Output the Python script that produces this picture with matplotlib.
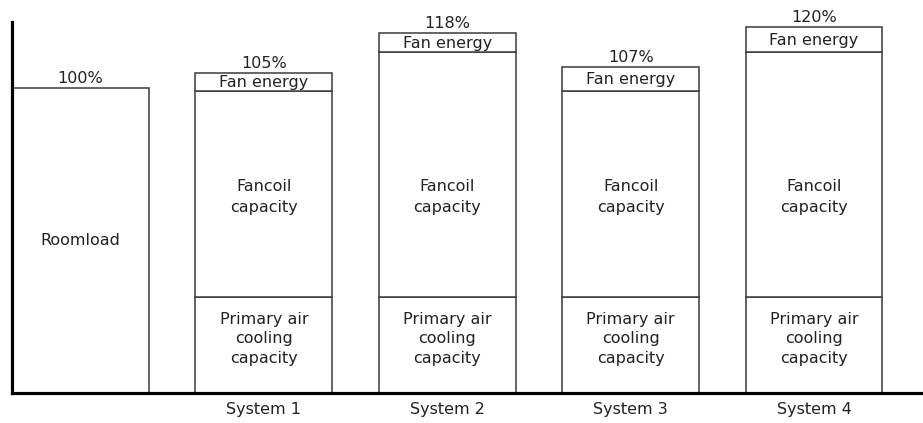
import matplotlib
matplotlib.use("Agg")
import matplotlib.pyplot as plt
import numpy as np

plt.rcParams['font.family'] = ['DejaVu Sans']

categories = ["Roomload", "System 1", "System 2", "System 3", "System 4"]
tick_labels = ["", "System 1", "System 2", "System 3", "System 4"]
roomload = [100, 0, 0, 0, 0]
primary_air = [0, 31.5, 31.5, 31.5, 31.5]
fancoil = [0, 67.5, 80.5, 67.5, 80.5]
fan_energy = [0, 6, 6, 8, 8]
totals = [100, 105, 118, 107, 120]
total_labels = ["100%", "105%", "118%", "107%", "120%"]

fig = plt.figure(figsize=(9.23, 4.23), dpi=100)
ax = fig.add_axes([12/923, (423-392.7)/423, 1 - 12/923, (392.7-22)/423])

x = np.arange(len(categories))
w = 0.746
ec = '#3a3a3a'
lw = 1.1
tc = '#222222'
fs = 11.5

ax.bar(x, roomload, w, color='white', edgecolor=ec, linewidth=lw)
ax.bar(x, primary_air, w, color='white', edgecolor=ec, linewidth=lw)
bottom2 = np.array(primary_air)
ax.bar(x, fancoil, w, bottom=bottom2, color='white', edgecolor=ec, linewidth=lw)
bottom3 = bottom2 + np.array(fancoil)
ax.bar(x, fan_energy, w, bottom=bottom3, color='white', edgecolor=ec, linewidth=lw)

for i in range(len(categories)):
    ax.annotate(total_labels[i], (x[i], totals[i]), xytext=(0, 1.5),
                textcoords='offset points', ha='center', va='bottom',
                fontsize=fs, color=tc)
    if i == 0:
        ax.text(x[i], roomload[i] / 2, "Roomload", ha='center', va='center',
                fontsize=fs, color=tc)
    else:
        ax.text(x[i], primary_air[i] / 2 + 2, "Primary air\ncooling\ncapacity",
                ha='center', va='center', fontsize=fs, color=tc, linespacing=1.38)
        ax.text(x[i], bottom2[i] + 32.8, "Fancoil\ncapacity",
                ha='center', va='center', fontsize=fs, color=tc, linespacing=1.45)
        ax.text(x[i], bottom3[i] + fan_energy[i] / 2 - 0.3, "Fan energy",
                ha='center', va='center', fontsize=fs, color=tc)

ax.set_xlim(-w / 2, 4.594)
ax.set_ylim(0, 121.7)
ax.set_xticks(x)
ax.set_xticklabels(tick_labels, fontsize=fs, color=tc)
ax.tick_params(axis='x', length=0, pad=7)
ax.set_yticks([])
for s in ['top', 'right']:
    ax.spines[s].set_visible(False)
for s in ['left', 'bottom']:
    ax.spines[s].set_linewidth(2.3)
    ax.spines[s].set_color('black')

fig.savefig("out.png", dpi=100)
